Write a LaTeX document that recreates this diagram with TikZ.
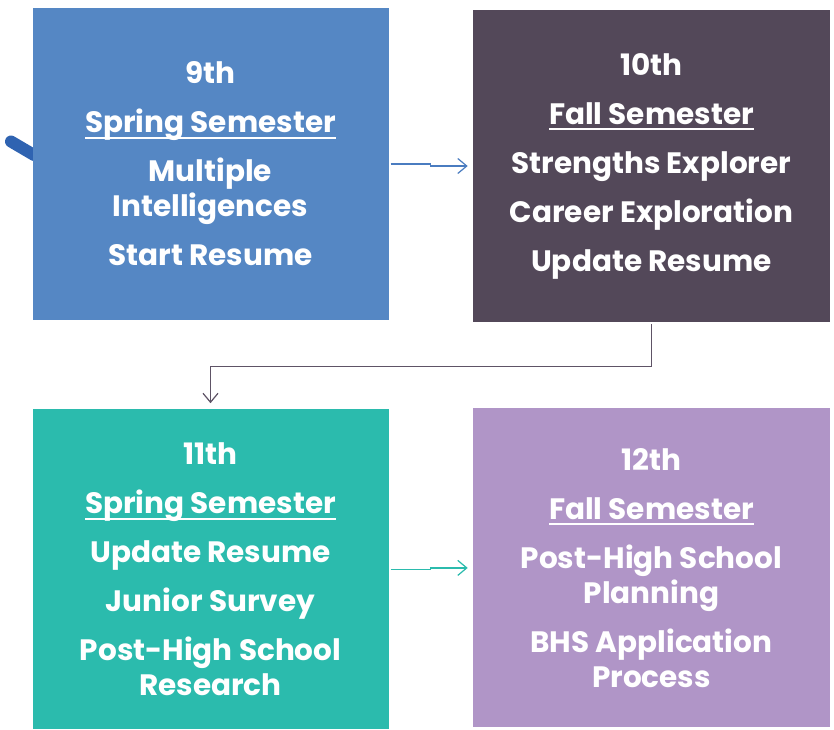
\documentclass[tikz,border=0pt]{standalone}
\usepackage{fontspec}
\setmainfont{Poppins}
\usepackage{tikz}
\usetikzlibrary{arrows.meta}
\usetikzlibrary{positioning}

\definecolor{springblue}{HTML}{5587C4}
\definecolor{fallplum}{HTML}{534859}
\definecolor{juniorteal}{HTML}{2BBBAD}
\definecolor{seniorlilac}{HTML}{B095C7}
\definecolor{blobblue}{HTML}{2F63B1}
\definecolor{linkblue}{HTML}{4A7CC0}
\definecolor{linkplum}{HTML}{5E5366}

\newcommand\semhead[1]{\setbox0\hbox{#1}\rlap{\rule[-6pt]{\wd0}{2pt}}\box0}

\tikzset{
  gradebox/.style={rectangle, minimum width=356pt, minimum height=312pt,
    inner sep=0pt, text=white, align=center,
    font=\fontsize{29.5}{35}\selectfont\bfseries},
  steplink/.style={line width=1.2pt, -{Straight Barb[length=9pt,width=15pt]}}
}

\begin{document}
\begin{tikzpicture}[x=1pt,y=-1pt]
    \useasboundingbox (0,0) rectangle (834,729);

    % little mark behind the first box
    \draw[blobblue, line width=12pt, line cap=round] (11,141.5) -- (34,155);

    \node[gradebox, fill=springblue] (grade9) at (210.5,164)
      {9th\\[14pt]\semhead{Spring Semester}\\[14pt]Multiple\\Intelligences\\[14pt]Start Resume};
    \node[gradebox, fill=fallplum, minimum width=357pt, right=84pt of grade9, yshift=-2pt] (grade10)
      {10th\\[14pt]\semhead{Fall Semester}\\[14pt]Strengths Explorer\\[14pt]Career Exploration\\[14pt]Update Resume};
    \node[gradebox, fill=juniorteal, minimum height=320pt, below=89pt of grade9] (grade11)
      {11th\\[14pt]\semhead{Spring Semester}\\[14pt]Update Resume\\[14pt]Junior Survey\\[14pt]Post-High School\\Research};
    \node[gradebox, fill=seniorlilac, minimum width=357pt, minimum height=319pt, right=84pt of grade11, yshift=1.5pt] (grade12)
      {12th\\[14pt]\semhead{Fall Semester}\\[14pt]Post-High School\\Planning\\[14pt]BHS Application\\Process};

    \draw[steplink, linkblue, shorten <=2pt, shorten >=5pt] (grade9.east) -- ++(42,0) |- (grade10.west);
    \draw[steplink, linkplum, shorten <=2pt, shorten >=6pt] (grade10.south) -- ++(0,44) -| (grade11.north);
    \draw[steplink, juniorteal, shorten <=2pt, shorten >=5pt] (grade11.east) -- ++(42,0) |- (grade12.west);
\end{tikzpicture}
\end{document}
